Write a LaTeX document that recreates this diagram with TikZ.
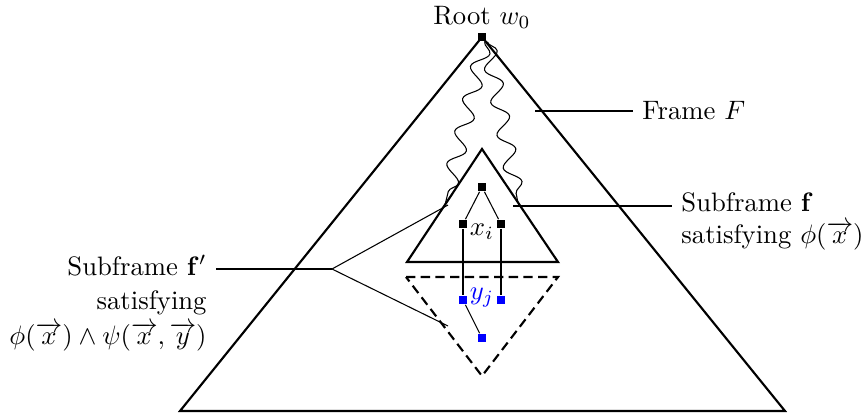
\documentclass[tikz,border=0pt]{standalone}
\usepackage{amsmath,amssymb}
\usetikzlibrary{positioning,decorations.pathmorphing}
\tikzset{
  world/.style={rectangle, fill=black, inner sep=0pt, minimum size=3.2pt},
  bworld/.style={world, fill=blue},
  frm/.style={thick},
  subfrm/.style={thick, dash pattern=on 3.5pt off 2pt},
  wavy/.style={decorate, decoration={snake, segment length=12.5pt, amplitude=3pt, post length=3pt}},
  lbl/.style={font=\normalsize},
}

\begin{document}
\begin{tikzpicture}[x=0.375pt,y=-0.375pt]
\useasboundingbox (0,0) rectangle (866,419);
% the frame F and the two subframes
\coordinate (Fl) at (180,411); \coordinate (Fr) at (785,411); \coordinate (Ft) at (482,37);
\coordinate (fl) at (407,262); \coordinate (fr) at (558,262); \coordinate (ft) at (482,149);
\coordinate (gl) at (406,277); \coordinate (gr) at (558,277); \coordinate (gb) at (482,376);
\draw[frm] (Fl) -- (Ft) -- (Fr) -- cycle;
\draw[frm] (fl) -- (ft) -- (fr) -- cycle;
\draw[subfrm] (gl) -- (gr) -- (gb) -- cycle;

% worlds
\node[world] (w0) at (482,37) {};
\node[lbl] (root) at (482,17) {Root $w_0$};
\node[world] (top) at (482,187) {};
\node[world] (xa) at (463,224) {};
\node[world] (xb) at (501,224) {};
\node[lbl] (xi) at (482,232) {$x_i$};
\node[bworld] (ya) at (463,300) {};
\node[bworld] (yb) at (501,300) {};
\node[bworld] (yc) at (482,338) {};
\node[lbl, text=blue] (yj) at (482,298) {$y_j$};
\draw (top) -- (xa); \draw (top) -- (xb);
\draw (xa) -- (ya); \draw (xb) -- (yb);
\draw (ya) -- (yc);

% paths from the root
\coordinate (wl) at (445,205);
\coordinate (wr) at (518,203);
\draw[wavy] ([xshift=1pt]w0.south) -- (wl);
\draw[wavy] ([xshift=2pt]w0.south) -- (wr);

% labels
\node[lbl, anchor=west] (fF) at (633,111) {Frame $F$};
\coordinate (Fa) at (535,111);
\draw (Fa) -- (fF);
\node[lbl, anchor=west, align=left] (sf) at (672,221) {Subframe $\mathbf{f}$\\satisfying $\phi(\overrightarrow{x})$};
\coordinate (sfa) at (513,206);
\draw (sfa) -- (sfa -| sf.west);
\node[lbl, anchor=east, align=right] (sfp) at (216,303) {Subframe $\mathbf{f}'$\\[1pt]satisfying\\[1pt]$\phi(\overrightarrow{x})\wedge\psi(\overrightarrow{x},\overrightarrow{y})$};
\coordinate (br) at (332,269);
\coordinate (fpa) at (448,205);
\coordinate (fpb) at (448,326);
\draw (sfp.east |- br) -- (br);
\draw (br) -- (fpa); \draw (br) -- (fpb);
\end{tikzpicture}
\end{document}
